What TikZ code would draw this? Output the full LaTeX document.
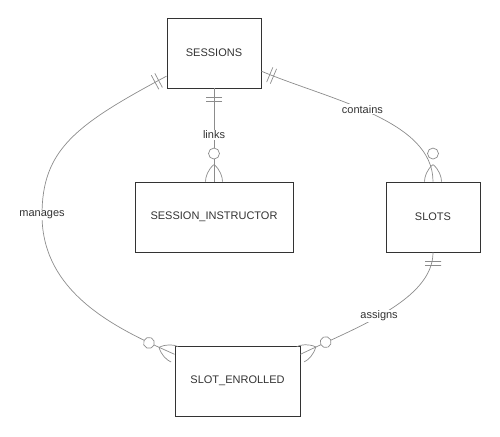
\documentclass[tikz,border=0pt]{standalone}
\usepackage{fontspec}
\setmainfont{Liberation Sans}
\usetikzlibrary{positioning,decorations.markings}
\definecolor{edgegray}{HTML}{8C8C8C}
\definecolor{inkgray}{HTML}{333333}
\tikzset{
  entity/.style={draw=inkgray, line width=0.9pt, minimum height=70pt, inner sep=0pt,
                 font=\fontsize{11}{13}\selectfont, text=inkgray},
  rel/.style={draw=edgegray, line width=0.7pt},
  rellabel/.style={fill=white, inner sep=1pt, font=\fontsize{11}{13}\selectfont, text=inkgray},
  % two bars at the start of a connector
  onlyone/.style={postaction={decorate, decoration={markings,
      mark=at position 0.01pt with {\draw[edgegray, line width=0.7pt] (9,-8) -- (9,8) (13,-8) -- (13,8);}}}},
  % circle and crow's foot at the end of a connector
  zeromany/.style={postaction={decorate, decoration={markings,
      mark=at position -0.01pt with {
        \draw[edgegray, line width=0.7pt] (-17,0) .. controls (-12,6) and (-5,8.5) .. (0,8.5)
                                          (-17,0) .. controls (-12,-6) and (-5,-8.5) .. (0,-8.5);
        \draw[edgegray, line width=0.7pt, fill=white] (-28,0) circle (5.5);}}}},
}

\begin{document}
\begin{tikzpicture}[x=1pt, y=-1pt]
  \useasboundingbox (0,0) rectangle (500,436);

  \node[entity, minimum width=94pt] (sessions) at (214,53) {SESSIONS};
  \node[entity, minimum width=158pt] (instructor) at (214,217) {SESSION\_INSTRUCTOR};
  \node[entity, minimum width=94pt] (slots) at (433,217) {SLOTS};
  \node[entity, minimum width=125pt] (enrolled) at (237.5,381) {SLOT\_ENROLLED};

  \draw[rel, onlyone, zeromany] (sessions.south) -- (instructor.north) node[rellabel, pos=0.5] {links};
  \draw[rel, onlyone, zeromany] (sessions.339) .. controls (330,100) and (433,120) .. (slots.north)
    node[rellabel, pos=0.45] {contains};
  \draw[rel, onlyone, zeromany] (slots.south) .. controls (433,300) and (355,328) .. (enrolled.23)
    node[rellabel, pos=0.55] {assigns};
  \draw[rel, onlyone, zeromany] (sessions.206) .. controls (75,125) and (42,150) .. (42,215)
    node[rellabel] {manages} .. controls (42,295) and (120,330) .. (enrolled.157);

\end{tikzpicture}
\end{document}
